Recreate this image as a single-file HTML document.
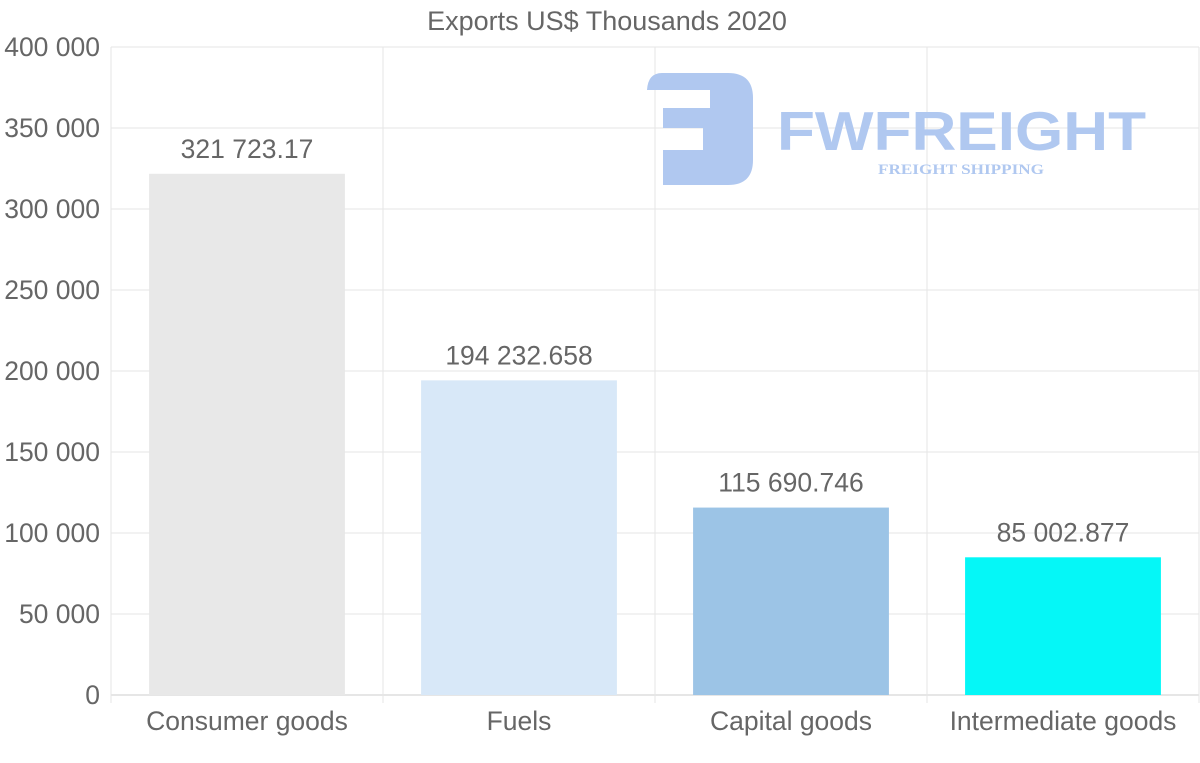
<!DOCTYPE html>
<html><head><meta charset="utf-8"><style>
html,body{margin:0;padding:0;background:#fff;}
svg{display:block;font-family:"Liberation Sans",sans-serif;}
</style></head><body>
<svg id="chart" width="1200" height="763">
<text x="607" y="30" text-anchor="middle" font-size="27" fill="#666">Exports US$ Thousands 2020</text>
<g id="grid"></g>
<g fill="#b0c8f0">
<path d="M647 90 Q648 73 662 73 L728 73 Q753 73 753 98 L753 160 Q753 185 728 185 L663 185 L663 150 L703 150 L703 128 L663 128 L663 108 L710 108 L710 90 Z"/>
<text x="777" y="150" font-size="55" font-weight="bold" textLength="369" lengthAdjust="spacingAndGlyphs">FWFREIGHT</text>
<text x="878" y="174" font-size="15" font-weight="bold" font-family="Liberation Serif,serif" textLength="166" lengthAdjust="spacingAndGlyphs">FREIGHT SHIPPING</text>
</g>
<g id="bars"></g>
<g id="axes"></g>
</svg>
<script>
const categories = ["Consumer goods","Fuels","Capital goods","Intermediate goods"];
const values = [321723.17,194232.658,115690.746,85002.877];
const valueLabels = ["321 723.17","194 232.658","115 690.746","85 002.877"];
const colors = ["#e8e8e8","#d8e8f8","#9cc4e6","#05f7f7"];
const yTicks = [0,50000,100000,150000,200000,250000,300000,350000,400000];
const yTickLabels = ["0","50 000","100 000","150 000","200 000","250 000","300 000","350 000","400 000"];

const NS="http://www.w3.org/2000/svg";
const L=111,R=1199,T=47,B=695,yMax=400000;
const y=v=>B-(v/yMax)*(B-T);
const band=(R-L)/categories.length;
const x=i=>L+band*i;
function mk(tag,attrs,parent,txt){const e=document.createElementNS(NS,tag);for(const k in attrs)e.setAttribute(k,attrs[k]);if(txt!==undefined)e.textContent=txt;parent.appendChild(e);return e;}
const grid=document.getElementById('grid'),bars=document.getElementById('bars'),axes=document.getElementById('axes');
yTicks.forEach((t,i)=>{
  const g=mk('line',{x1:L,x2:R,y1:y(t),y2:y(t),stroke:t===0?'#ccc':'#e6e6e6','stroke-width':1},grid);
  
  
  const lb=mk('text',{x:100,y:y(t)+9,'text-anchor':'end','font-size':26.5,fill:'#666'},axes,yTickLabels[i]);
  
  
});
for(let i=0;i<=categories.length;i++){
  const g=mk('line',{x1:x(i),x2:x(i),y1:T,y2:B+8,stroke:'#e6e6e6','stroke-width':1},grid);
  
  
}
categories.forEach((c,i)=>{
  const bw=band*0.72,cx=x(i)+band/2;
  const r=mk('rect',{x:cx-bw/2,y:y(values[i]),width:bw,height:B-y(values[i]),fill:colors[i]},bars);
  
  
  const v=mk('text',{x:cx,y:y(values[i])-16,'text-anchor':'middle','font-size':26.5,fill:'#666'},bars,valueLabels[i]);
  
  
  const lb=mk('text',{x:cx,y:730,'text-anchor':'middle','font-size':26.5,fill:'#666'},axes,c);
  
  
});
</script>
</body></html>
